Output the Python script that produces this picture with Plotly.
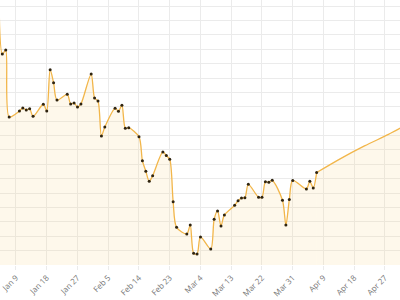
import plotly.graph_objects as go

# Historical series (daily, trading days)
hist_dates = [
    "2022-01-04", "2022-01-05", "2022-01-06", "2022-01-07",
    "2022-01-10", "2022-01-11", "2022-01-12", "2022-01-13", "2022-01-14",
    "2022-01-17", "2022-01-18", "2022-01-19", "2022-01-20", "2022-01-21",
    "2022-01-24", "2022-01-25", "2022-01-26", "2022-01-27", "2022-01-28",
    "2022-01-31", "2022-02-01", "2022-02-02", "2022-02-03", "2022-02-04",
    "2022-02-07", "2022-02-08", "2022-02-09", "2022-02-10", "2022-02-11",
    "2022-02-14", "2022-02-15", "2022-02-16", "2022-02-17", "2022-02-18",
    "2022-02-21", "2022-02-22", "2022-02-23", "2022-02-24", "2022-02-25",
    "2022-02-28", "2022-03-01", "2022-03-02", "2022-03-03", "2022-03-04",
    "2022-03-07", "2022-03-08", "2022-03-09", "2022-03-10", "2022-03-11",
    "2022-03-14", "2022-03-15", "2022-03-16", "2022-03-17", "2022-03-18",
    "2022-03-21", "2022-03-22", "2022-03-23", "2022-03-24", "2022-03-25",
    "2022-03-28", "2022-03-29", "2022-03-30", "2022-03-31",
    "2022-04-04", "2022-04-05", "2022-04-06", "2022-04-07",
]
hist_values = [
    187.8, 146.7, 149.5, 102.9,
    107.1, 109.2, 107.8, 108.7, 103.4,
    111.8, 107.1, 135.8, 126.8, 114.7,
    118.7, 112.0, 112.7, 109.9, 112.0,
    132.8, 116.1, 114.0, 89.7, 96.0,
    109.0, 106.9, 111.1, 95.1, 95.5,
    89.2, 72.5, 65.2, 58.2, 62.1,
    78.6, 76.1, 73.5, 44.0, 26.2,
    21.6, 27.8, 8.1, 7.6, 19.5,
    11.1, 31.8, 37.6, 27.1, 34.8,
    41.5, 44.7, 46.6, 46.8, 56.1,
    47.1, 47.1, 57.9, 57.5, 58.9,
    45.0, 27.8, 45.5, 58.8,
    52.9, 58.2, 53.5, 64.3,
]

# Projection series
proj_dates = ["2022-04-07", "2022-04-14", "2022-04-21", "2022-04-28", "2022-05-02"]
proj_values = [64.3, 74.0, 82.8, 90.8, 95.8]

# X-axis ticks
tick_dates = [
    "2022-01-09", "2022-01-18", "2022-01-27", "2022-02-05", "2022-02-14",
    "2022-02-23", "2022-03-04", "2022-03-13", "2022-03-22", "2022-03-31",
    "2022-04-09", "2022-04-18", "2022-04-27",
]
tick_labels = [
    "Jan 9", "Jan 18", "Jan 27", "Feb 5", "Feb 14", "Feb 23", "Mar 4",
    "Mar 13", "Mar 22", "Mar 31", "Apr 9", "Apr 18", "Apr 27",
]

LINE = "#f2b64a"
FILL = "rgba(246, 205, 120, 0.15)"

fig = go.Figure()
fig.add_trace(go.Scatter(
    x=proj_dates, y=proj_values, mode="lines",
    line=dict(color=LINE, width=1.3, shape="spline", smoothing=0.8),
    fill="tozeroy", fillcolor=FILL, hoverinfo="skip", showlegend=False,
))
fig.add_trace(go.Scatter(
    x=hist_dates, y=hist_values, mode="lines+markers",
    line=dict(color=LINE, width=1.3, shape="spline", smoothing=0.8),
    marker=dict(color="#2f2410", size=3),
    fill="tozeroy", fillcolor=FILL, showlegend=False,
))

fig.update_layout(
    width=400, height=300,
    margin=dict(l=0, r=0, t=0, b=35),
    paper_bgcolor="white", plot_bgcolor="white",
    xaxis=dict(
        type="date",
        range=["2022-01-04 07:40", "2022-05-01 09:30"],
        tickmode="array", tickvals=tick_dates, ticktext=tick_labels,
        tickangle=-45,
        tickfont=dict(family="Open Sans", size=8, color="#777777"),
        ticklabeloverflow="allow",
        showgrid=True, gridcolor="#ebebeb", gridwidth=1,
        ticks="outside", ticklen=4, tickcolor="#ebebeb",
        zeroline=False, showline=False,
    ),
    yaxis=dict(
        range=[0, 184.3], dtick=10, tick0=0,
        showticklabels=False,
        showgrid=True, gridcolor="#ebebeb", gridwidth=1,
        zeroline=False, showline=False,
    ),
)

fig.write_html("out.html")
